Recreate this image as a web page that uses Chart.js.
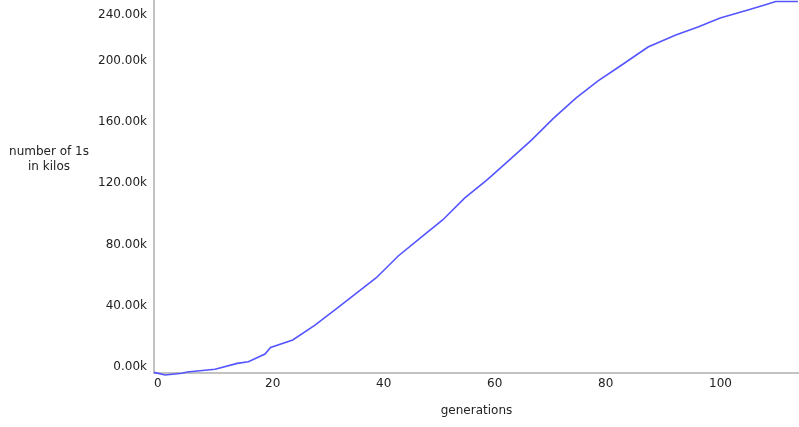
<!DOCTYPE html>
<html>
<head>
<meta charset="utf-8">
<script src="https://cdn.jsdelivr.net/npm/chart.js@4"></script>
<style>
  html, body { margin: 0; padding: 0; background: #fff; }
  #wrap { position: relative; width: 799px; height: 427px; }
  #ytitle { position: absolute; left: 0; top: 144px; width: 98px; text-align: center;
            font: 12px "DejaVu Sans", sans-serif; line-height: 15px; color: #222; }
</style>
</head>
<body>
<div id="wrap">
  <canvas id="c" width="799" height="427"></canvas>
  <div id="ytitle">number of 1s<br>in kilos</div>
</div>
<script>
const generations = [0, 2, 5, 6, 11, 15, 17, 20, 21, 25, 29, 33, 40, 44, 48, 52, 56, 60, 64, 68, 72, 76, 80, 84, 89, 94, 98, 102, 107, 110, 112, 116];
const onesKilo = [-3.8, -5.5, -4.4, -3.5, -1.8, 2.1, 3.2, 8.2, 12.5, 17.4, 27.2, 38.2, 58.0, 72.4, 84.2, 96.0, 110.4, 122.2, 135.2, 148.3, 162.7, 175.8, 187.0, 196.8, 209.2, 217.1, 222.3, 228.2, 233.5, 236.7, 239.0, 239.0];
const xTickValues = [0, 20, 40, 60, 80, 100];
const yTickValues = [0, 40000, 80000, 120000, 160000, 200000, 240000];
const yMin = -4200, yMax = 240000;
const xMin = 0, xMax = 116.2;
const xTitle = 'generations';

const points = generations.map((g, i) => ({ x: g, y: onesKilo[i] * 1000 }));
const FONT = { family: 'DejaVu Sans', size: 12 };
const TXT = '#222';

new Chart(document.getElementById('c'), {
  type: 'line',
  data: {
    datasets: [{
      data: points,
      borderColor: 'rgb(85,85,255)',
      borderWidth: 1.6,
      pointRadius: 0,
      tension: 0,
      fill: false,
      clip: false
    }]
  },
  options: {
    responsive: false,
    animation: false,
    devicePixelRatio: 1,
    layout: { padding: 0 },
    plugins: { legend: { display: false }, tooltip: { enabled: false } },
    scales: {
      x: {
        type: 'linear',
        min: xMin, max: xMax,
        afterBuildTicks: (s) => { s.ticks = xTickValues.map(v => ({ value: v })); },
        afterFit: (s) => { s.height = 54; s.paddingLeft = 0; s.paddingRight = 0; },
        grid: { display: true, drawOnChartArea: false, drawTicks: false },
        border: { display: true, color: '#c2c2c2', width: 2 },
        ticks: { align: 'start', padding: 4, color: TXT, font: FONT, maxRotation: 0, autoSkip: false },
        title: { display: true, text: xTitle, color: TXT, font: FONT, padding: { top: 0, bottom: 9 } }
      },
      y: {
        type: 'linear',
        min: yMin, max: yMax,
        afterBuildTicks: (s) => { s.ticks = yTickValues.map(v => ({ value: v })); },
        afterFit: (s) => { s.width = 154; s.paddingTop = 0; s.paddingBottom = 0; },
        grid: { display: true, drawOnChartArea: false, drawTicks: false },
        border: { display: true, color: '#c2c2c2', width: 2 },
        ticks: {
          padding: 7, color: TXT, font: FONT, autoSkip: false,
          callback: (v) => {
            const s = (v / 1000).toFixed(2) + 'k';
            return v >= yMax ? ['', '', s] : s;
          }
        }
      }
    }
  }
});
</script>
</body>
</html>
